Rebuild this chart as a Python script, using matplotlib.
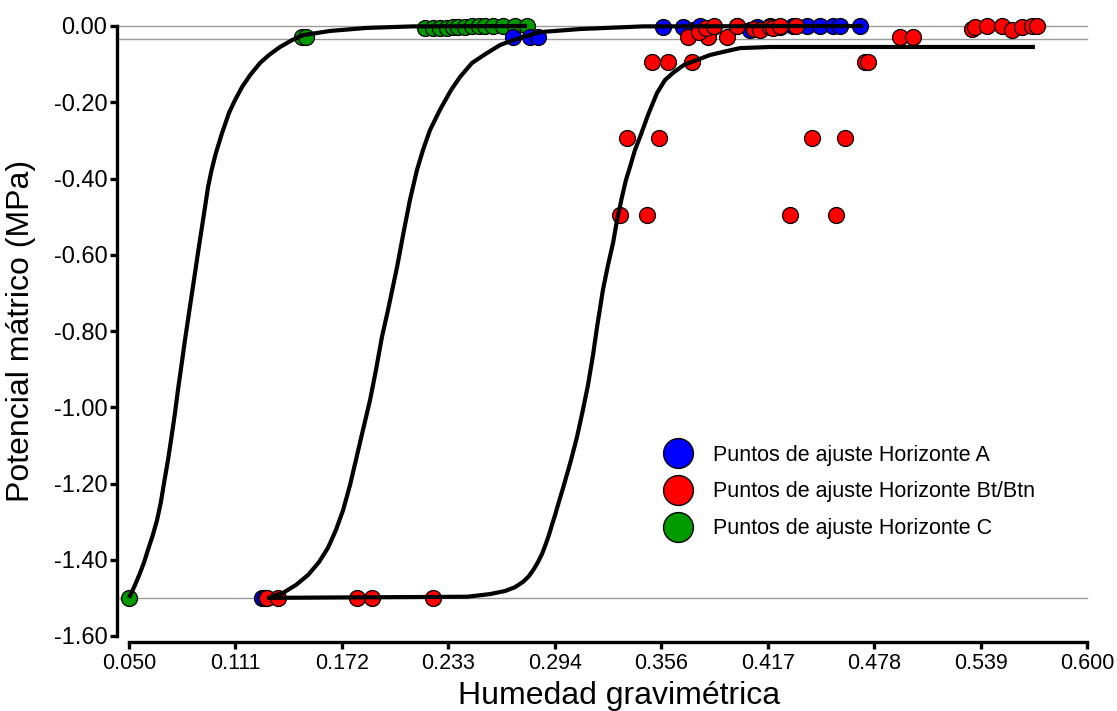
import matplotlib
matplotlib.use("Agg")
import matplotlib.pyplot as plt
from matplotlib.lines import Line2D

plt.rcParams['font.family'] = ['Liberation Sans', 'DejaVu Sans']

# ---- data ----
# fitted curves (humedad, potencial)
curveC_x = [0.0500, 0.0532, 0.0563, 0.0587, 0.0609, 0.0635, 0.0661, 0.0683, 0.0701, 0.0724,
            0.0744, 0.0764, 0.0781, 0.0800, 0.0819, 0.0847, 0.0873, 0.0896, 0.0925, 0.0954,
            0.0974, 0.0999, 0.1034, 0.1074, 0.1109, 0.1149, 0.1195, 0.1252, 0.1304, 0.1367,
            0.1436, 0.1499, 0.1654, 0.1866, 0.2130, 0.2785]
curveC_y = [-1.500, -1.469, -1.435, -1.406, -1.374, -1.338, -1.296, -1.249, -1.199, -1.138,
            -1.078, -1.015, -0.955, -0.894, -0.831, -0.745, -0.666, -0.595, -0.509, -0.422,
            -0.378, -0.333, -0.281, -0.228, -0.194, -0.160, -0.129, -0.097, -0.076, -0.055,
            -0.037, -0.024, -0.013, -0.005, -0.001, 0.000]

curveA_x = [0.1310, 0.1384, 0.1459, 0.1528, 0.1591, 0.1642, 0.1688, 0.1729, 0.1769, 0.1803,
            0.1843, 0.1884, 0.1918, 0.1952, 0.1987, 0.2039, 0.2079, 0.2113, 0.2153, 0.2188,
            0.2228, 0.2285, 0.2349, 0.2400, 0.2469, 0.2555, 0.2630, 0.2705, 0.2860, 0.3089,
            0.3451, 0.4714]
curveA_y = [-1.498, -1.487, -1.466, -1.440, -1.406, -1.369, -1.322, -1.270, -1.204, -1.138,
            -1.060, -0.981, -0.902, -0.816, -0.745, -0.632, -0.535, -0.456, -0.378, -0.325,
            -0.273, -0.220, -0.168, -0.134, -0.097, -0.071, -0.050, -0.037, -0.016, -0.008,
            -0.001, 0.000]

curveB_x = [0.1292, 0.2441, 0.2573, 0.2659, 0.2716, 0.2762, 0.2796, 0.2825, 0.2848, 0.2871,
            0.2891, 0.2911, 0.2928, 0.2946, 0.2963, 0.2980, 0.2997, 0.3038, 0.3072, 0.3106,
            0.3135, 0.3164, 0.3187, 0.3221, 0.3250, 0.3279, 0.3302, 0.3330, 0.3353, 0.3376,
            0.3405, 0.3434, 0.3480, 0.3531, 0.3577, 0.3623, 0.3686, 0.3761, 0.3836, 0.3910,
            0.4008, 0.4180, 0.5701]
curveB_y = [-1.500, -1.497, -1.490, -1.482, -1.472, -1.458, -1.443, -1.424, -1.406, -1.385,
            -1.361, -1.335, -1.309, -1.283, -1.256, -1.230, -1.204, -1.138, -1.078, -1.007,
            -0.942, -0.863, -0.790, -0.692, -0.627, -0.569, -0.509, -0.449, -0.404, -0.370,
            -0.325, -0.291, -0.233, -0.176, -0.142, -0.123, -0.102, -0.089, -0.076, -0.068,
            -0.058, -0.055, -0.055]

# measured points
ptsC_x = [0.0500, 0.1495, 0.1515, 0.2199, 0.2245, 0.2285, 0.2326, 0.2360, 0.2389, 0.2429,
          0.2469, 0.2509, 0.2544, 0.2590, 0.2647, 0.2716, 0.2785]
ptsC_y = [-1.500, -0.030, -0.030, -0.006, -0.005, -0.006, -0.004, -0.003, -0.002, -0.002,
          -0.001, -0.001, 0.000, 0.000, 0.000, 0.000, 0.000]

ptsA_x = [0.1264, 0.1280, 0.2705, 0.2802, 0.2848, 0.3566, 0.3680, 0.3738, 0.3778, 0.3853,
          0.3990, 0.4065, 0.4105, 0.4180, 0.4237, 0.4312, 0.4392, 0.4467, 0.4542, 0.4582, 0.4697]
ptsA_y = [-1.500, -1.500, -0.030, -0.030, -0.028, -0.003, -0.003, -0.010, 0.000, -0.003,
          0.000, -0.010, -0.003, 0.000, -0.003, 0.000, -0.001, 0.000, 0.000, 0.000, 0.000]

ptsB_x = [0.1290, 0.1355, 0.1809, 0.1895, 0.2245,
          0.3319, 0.3474, 0.4295, 0.4559,
          0.3359, 0.3543, 0.4421, 0.4611,
          0.3502, 0.3594, 0.3732, 0.4727, 0.4744,
          0.3709, 0.3824, 0.3933, 0.3770, 0.3810, 0.3860, 0.3990, 0.4090, 0.4120,
          0.4180, 0.4200, 0.4240, 0.4330,
          0.4926, 0.5001, 0.5340, 0.5357, 0.5426, 0.5512, 0.5569, 0.5627, 0.5684, 0.5713]
ptsB_y = [-1.500, -1.500, -1.500, -1.500, -1.500,
          -0.495, -0.495, -0.495, -0.495,
          -0.295, -0.295, -0.295, -0.295,
          -0.094, -0.094, -0.094, -0.094, -0.094,
          -0.030, -0.030, -0.030, -0.015, -0.005, 0.000, 0.000, -0.008, -0.010,
          -0.002, -0.004, 0.000, 0.000,
          -0.028, -0.028, -0.008, -0.003, 0.000, 0.000, -0.010, -0.003, -0.001, 0.000]

ref_lines = [0.0, -0.033, -1.5]

xticks = [0.050, 0.1111, 0.1722, 0.2333, 0.2944, 0.3556, 0.4167, 0.4778, 0.5389, 0.600]
xticklabels = ['0.050', '0.111', '0.172', '0.233', '0.294', '0.356', '0.417', '0.478', '0.539', '0.600']
yticks = [0.0, -0.2, -0.4, -0.6, -0.8, -1.0, -1.2, -1.4, -1.6]
yticklabels = ['0.00', '-0.20', '-0.40', '-0.60', '-0.80', '-1.00', '-1.20', '-1.40', '-1.60']

labels = ['Puntos de ajuste Horizonte A', 'Puntos de ajuste Horizonte Bt/Btn',
          'Puntos de ajuste Horizonte C']
colors = ['#0000ff', '#ff0000', '#009900']

W, H = 1117, 711
fig = plt.figure(figsize=(W/100., H/100.), dpi=100)
ax = fig.add_axes([129./W, (H-636.)/H, (1087.-129.)/W, (636.-26.)/H])
ax.set_xlim(0.05, 0.6)
ax.set_ylim(-1.6, 0.0)

# grey reference lines
for yv in ref_lines:
    ax.axhline(yv, xmin=-0.012, xmax=1.0, color='#9a9a9a', lw=1.0, zorder=1, clip_on=False)

ms = 11.5
for xs, ys, c in [(ptsC_x, ptsC_y, colors[2]), (ptsA_x, ptsA_y, colors[0]),
                  (ptsB_x, ptsB_y, colors[1])]:
    ax.plot(xs, ys, 'o', ms=ms, mfc=c, mec='black', mew=0.9, ls='none',
            zorder=3, clip_on=False)

for xs, ys in [(curveC_x, curveC_y), (curveA_x, curveA_y), (curveB_x, curveB_y)]:
    ax.plot(xs, ys, color='black', lw=3.0, zorder=4, clip_on=False,
            solid_capstyle='butt', solid_joinstyle='round')

# axes style
for s in ['top', 'right']:
    ax.spines[s].set_visible(False)
ax.spines['left'].set_position(('outward', 8.5))
ax.spines['bottom'].set_position(('outward', 4.5))
ax.spines['left'].set_linewidth(2.4)
ax.spines['bottom'].set_linewidth(2.4)
ax.spines['left'].set_capstyle('projecting')
ax.spines['bottom'].set_capstyle('projecting')

ax.set_xticks(xticks)
ax.set_xticklabels(xticklabels)
ax.set_yticks(yticks)
ax.set_yticklabels(yticklabels)
ax.tick_params(axis='both', direction='out', length=5, width=2.4, colors='black')
ax.tick_params(axis='y', pad=2, labelsize=17)
ax.tick_params(axis='x', pad=3, labelsize=15.5)

ax.set_xlabel('Humedad gravimétrica', fontsize=23)
ax.set_ylabel('Potencial mátrico (MPa)', fontsize=23)
ax.xaxis.set_label_coords(0.512, -0.074)
ax.yaxis.set_label_coords(-0.097, 0.5)

handles = [Line2D([], [], marker='o', ls='none', ms=21.5, mfc=c, mec='black', mew=1.0)
           for c in colors]
leg = ax.legend(handles, labels, loc='center left', bbox_to_anchor=(663./W, (H-492.)/H),
                bbox_transform=fig.transFigure, frameon=False, fontsize=15.5,
                handlelength=1.4, handletextpad=0.93, labelspacing=0.74, borderpad=0,
                borderaxespad=0)

fig.savefig('out.png', dpi=100)
